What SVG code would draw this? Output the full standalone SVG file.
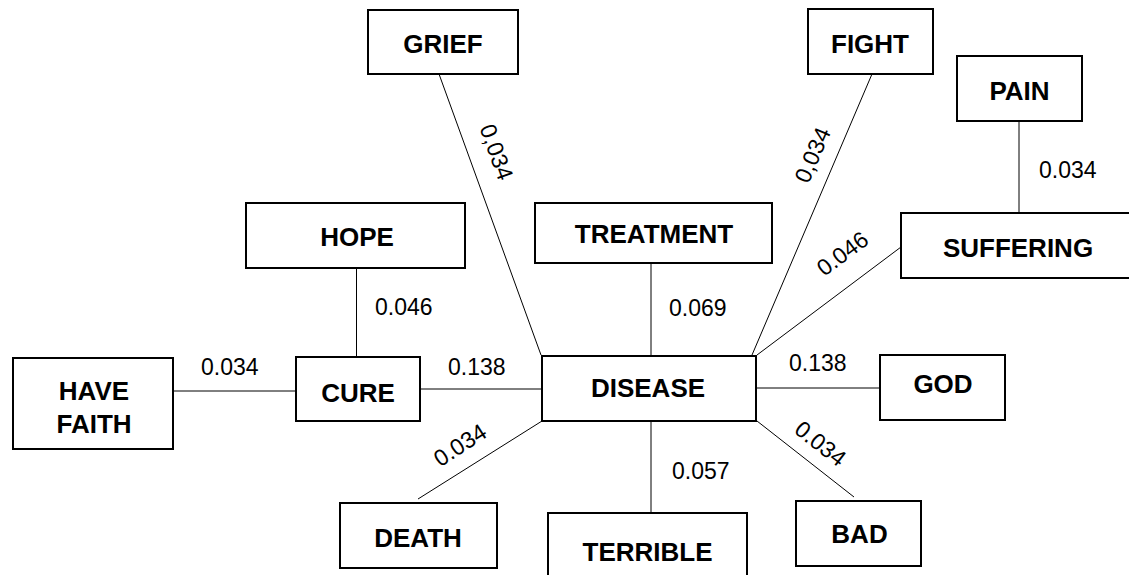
<svg xmlns="http://www.w3.org/2000/svg" width="1129" height="575" viewBox="0 0 1129 575">
<style>
.box{fill:#fff;stroke:#000;stroke-width:2}
.lbl{font-family:"Liberation Sans",Arial,sans-serif;font-weight:bold;font-size:26px;fill:#000;text-anchor:middle}
.num{font-family:"Liberation Sans",Arial,sans-serif;font-size:23px;fill:#000}
.rot{text-anchor:middle}
.edge{stroke:#000;stroke-width:1;fill:none}
</style>
<rect width="1129" height="575" fill="#fff"/>
<g id="connectors">
<line class="edge" x1="439" y1="74" x2="541" y2="355"/>
<line class="edge" x1="872" y1="74" x2="752" y2="355"/>
<line class="edge" x1="1019" y1="121" x2="1019" y2="213"/>
<line class="edge" x1="901" y1="247" x2="757" y2="355"/>
<line class="edge" x1="651" y1="263" x2="651" y2="356"/>
<line class="edge" x1="356.5" y1="268" x2="356.5" y2="357"/>
<line class="edge" x1="173" y1="391" x2="296" y2="391"/>
<line class="edge" x1="420" y1="389" x2="542" y2="389"/>
<line class="edge" x1="756" y1="388" x2="880" y2="388"/>
<line class="edge" x1="651" y1="421" x2="651" y2="513"/>
<line class="edge" x1="757" y1="421" x2="854" y2="497"/>
<line class="edge" x1="542" y1="421" x2="418" y2="499"/>
<text class="num rot" transform="translate(496.5,152) rotate(70)" y="8">0,034</text>
<text class="num rot" transform="translate(812.5,155) rotate(-66.8)" y="8">0,034</text>
<text class="num rot" transform="translate(842.5,253.5) rotate(-36.6)" y="8">0.046</text>
<text class="num rot" transform="translate(460,445) rotate(-33)" y="8">0.034</text>
<text class="num rot" transform="translate(820.5,443.5) rotate(38)" y="8">0.034</text>
<text class="num" x="1039" y="178">0.034</text>
<text class="num" x="669" y="316">0.069</text>
<text class="num" x="375" y="315">0.046</text>
<text class="num" x="201" y="375">0.034</text>
<text class="num" x="448" y="375">0.138</text>
<text class="num" x="789" y="371">0.138</text>
<text class="num" x="672" y="479">0.057</text>
</g>
<g id="grief"><rect class="box" x="368" y="10" width="150" height="64"/><text class="lbl" x="443" y="53">GRIEF</text></g>
<g id="fight"><rect class="box" x="808" y="9" width="125" height="65"/><text class="lbl" x="870" y="53">FIGHT</text></g>
<g id="pain"><rect class="box" x="957" y="56" width="125" height="65"/><text class="lbl" x="1019.5" y="100">PAIN</text></g>
<g id="suffering"><rect class="box" x="901" y="213" width="240" height="65"/><text class="lbl" x="1018" y="257">SUFFERING</text></g>
<g id="treatment"><rect class="box" x="535" y="203" width="237" height="60"/><text class="lbl" x="654" y="243">TREATMENT</text></g>
<g id="hope"><rect class="box" x="246" y="203" width="219" height="65"/><text class="lbl" x="357" y="246">HOPE</text></g>
<g id="have-faith"><rect class="box" x="13" y="358" width="160" height="91"/><text class="lbl" x="94" y="400">HAVE</text><text class="lbl" x="94" y="433">FAITH</text></g>
<g id="cure"><rect class="box" x="296" y="357" width="124" height="64"/><text class="lbl" x="358" y="402">CURE</text></g>
<g id="disease"><rect class="box" x="542" y="356" width="214" height="65"/><text class="lbl" x="648" y="397">DISEASE</text></g>
<g id="god"><rect class="box" x="880" y="355" width="125" height="65"/><text class="lbl" x="943" y="393">GOD</text></g>
<g id="death"><rect class="box" x="340" y="503" width="157" height="65"/><text class="lbl" x="418" y="547">DEATH</text></g>
<g id="terrible"><rect class="box" x="548" y="513" width="199" height="75"/><text class="lbl" x="647.5" y="561">TERRIBLE</text></g>
<g id="bad"><rect class="box" x="796" y="501" width="125" height="65"/><text class="lbl" x="859.5" y="543">BAD</text></g>
</svg>
